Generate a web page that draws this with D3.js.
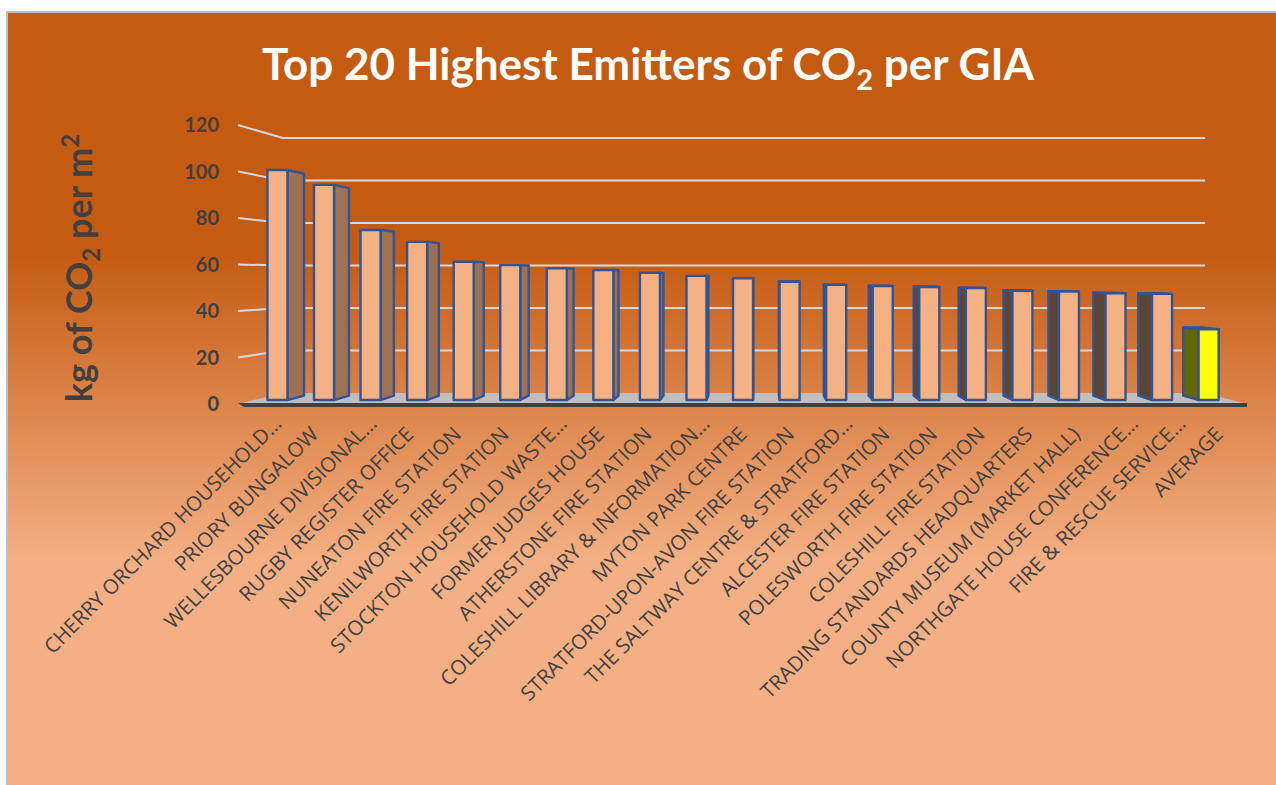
<!DOCTYPE html>
<html>
<head>
<meta charset="utf-8">
<script src="https://cdn.jsdelivr.net/npm/d3@7"></script>
<style>
  html, body { margin: 0; padding: 0; background: #ffffff; }
  svg { display: block; }
</style>
</head>
<body>
<svg id="chart" width="1276" height="785"></svg>
<script>
// ---- data ----
const categories = [
  "CHERRY ORCHARD HOUSEHOLD\u2026",
  "PRIORY BUNGALOW",
  "WELLESBOURNE DIVISIONAL\u2026",
  "RUGBY REGISTER OFFICE",
  "NUNEATON FIRE STATION",
  "KENILWORTH FIRE STATION",
  "STOCKTON HOUSEHOLD WASTE\u2026",
  "FORMER JUDGES HOUSE",
  "ATHERSTONE FIRE STATION",
  "COLESHILL LIBRARY & INFORMATION\u2026",
  "MYTON PARK CENTRE",
  "STRATFORD-UPON-AVON FIRE STATION",
  "THE SALTWAY CENTRE & STRATFORD\u2026",
  "ALCESTER FIRE STATION",
  "POLESWORTH FIRE STATION",
  "COLESHILL FIRE STATION",
  "TRADING STANDARDS HEADQUARTERS",
  "COUNTY MUSEUM (MARKET HALL)",
  "NORTHGATE HOUSE CONFERENCE\u2026",
  "FIRE & RESCUE SERVICE\u2026",
  "AVERAGE"
];
const values = [
  102.1, 95.5, 75.5, 70.2, 61.4, 59.9, 58.5, 57.7, 56.5, 55.1,
  54.0, 52.5, 51.1, 50.6, 50.2, 49.7, 48.5, 48.1, 47.4, 47.1,
  31.4
];
const yTicks = [0, 20, 40, 60, 80, 100, 120];
const highlightCategory = "AVERAGE";

// ---- canvas ----
const W = 1276, H = 785;
const svg = d3.select("#chart");
const defs = svg.append("defs");

const bg = defs.append("linearGradient")
  .attr("id", "bgGrad")
  .attr("gradientUnits", "userSpaceOnUse")
  .attr("x1", 0).attr("y1", 12).attr("x2", 0).attr("y2", H);
[[0, "#c55a11"], [0.31, "#c55a11"], [0.71, "#f4b084"], [1, "#f4b084"]]
  .forEach(([o, c]) => bg.append("stop").attr("offset", o).attr("stop-color", c));

svg.append("rect")
  .attr("x", 7).attr("y", 12)
  .attr("width", W + 10).attr("height", H + 10)
  .attr("fill", "url(#bgGrad)")
  .attr("stroke", "#bfbfbf").attr("stroke-width", 2);

// ---- scales and perspective ----
const x = d3.scaleBand()
  .domain(categories)
  .range([238, 1247])
  .paddingInner(0.57)
  .paddingOuter(0.285);
const y = d3.scaleLinear().domain([0, 120]).range([404, 125]);
// depth 0 = front edge of the floor, 1 = back wall
const depth = d3.scaleLinear().domain([0, 1]).range([1, 0.914]);
const vp = [760, 276];
function proj(X, v, z) {
  const f = depth(z);
  return [vp[0] + (X - vp[0]) * f, vp[1] + (y(v) - vp[1]) * f];
}
const [xL, xR] = x.range();
const line = d3.line();

// ---- walls: gridlines ----
const grid = svg.append("g");
grid.selectAll("path")
  .data(yTicks.filter(t => t > 0))
  .join("path")
  .attr("d", t => line([proj(xL, t, 0), proj(xL, t, 1), proj(xR, t, 1)]))
  .attr("fill", "none")
  .attr("stroke", "#d9d9d9")
  .attr("stroke-width", 2);

// ---- floor ----
svg.append("path")
  .attr("d", line([proj(xL, 0, 0), proj(xL, 0, 1), proj(xR, 0, 1), proj(xR, 0, 0)]) + "Z")
  .attr("fill", "#bfbfbf");
const f0 = proj(xL, 0, 0), f1 = proj(xR, 0, 0);
svg.append("path")
  .attr("d", line([[f0[0], f0[1] - 1], [f1[0], f1[1] - 1], [f1[0], f1[1] + 3], [f0[0] + 6, f0[1] + 3]]) + "Z")
  .attr("fill", "#404040");

// ---- bars ----
const zf = 0.36, zb = 0.756;
const bw = x.bandwidth();
const palette = {
  normal:    { front: "#f4b183", right: "#9e7152", left: "#5d4535", top: "#e9a679" },
  highlight: { front: "#ffff00", right: "#808000", left: "#666600", top: "#70805a" }
};
const bars = svg.append("g")
  .selectAll("g")
  .data(categories.map((c, i) => ({ c, v: values[i] })))
  .join("g");

bars.each(function (d) {
  const g = d3.select(this);
  const col = d.c === highlightCategory ? palette.highlight : palette.normal;
  const X0 = x(d.c), X1 = X0 + bw;
  const cx = (X0 + X1) / 2;
  const face = (pts, fill) => g.append("path")
    .attr("d", line(pts) + "Z")
    .attr("fill", fill)
    .attr("stroke", "#2f5597")
    .attr("stroke-width", 2.4)
    .attr("stroke-linejoin", "round");
  // side face turned towards the viewer
  if (cx < vp[0]) {
    face([proj(X1, 0, zf), proj(X1, 0, zb), proj(X1, d.v, zb), proj(X1, d.v, zf)], col.right);
  } else {
    face([proj(X0, 0, zf), proj(X0, 0, zb), proj(X0, d.v, zb), proj(X0, d.v, zf)], col.left);
  }
  // top face shows when the top sits below eye level
  if (proj(X0, d.v, zf)[1] > vp[1]) {
    face([proj(X0, d.v, zf), proj(X1, d.v, zf), proj(X1, d.v, zb), proj(X0, d.v, zb)], col.top);
  }
  face([proj(X0, 0, zf), proj(X1, 0, zf), proj(X1, d.v, zf), proj(X0, d.v, zf)], col.front);
});

// ---- value axis labels ----
svg.append("g")
  .selectAll("text")
  .data(yTicks)
  .join("text")
  .attr("x", 219)
  .attr("y", t => y(t))
  .attr("dy", "0.36em")
  .attr("text-anchor", "end")
  .attr("font-family", "Lato, 'Open Sans', sans-serif")
  .attr("font-weight", 700)
  .attr("font-size", 20)
  .attr("fill", "#404040")
  .text(t => t);

// ---- category labels ----
svg.append("g")
  .selectAll("text")
  .data(categories)
  .join("text")
  .attr("transform", c => {
    const ax = proj(x(c) + bw / 2, 0, 0.11)[0] + 16;
    return `translate(${ax},425) rotate(-45)`;
  })
  // truncated names run right to the edge of the label box
  .attr("x", c => c.endsWith("\u2026") ? 0 : -15)
  .attr("text-anchor", "end")
  .attr("font-family", "'Open Sans', sans-serif")
  .attr("font-size", 20.5)
  .attr("fill", "#404040")
  .text(c => c);

// ---- value axis title ----
const yt = svg.append("text")
  .attr("transform", "translate(91.5,268) rotate(-90)")
  .attr("text-anchor", "middle")
  .attr("font-family", "Lato, 'Open Sans', sans-serif")
  .attr("font-weight", 700)
  .attr("font-size", 36)
  .attr("fill", "#404040");
yt.append("tspan").text("kg of CO");
yt.append("tspan").attr("font-size", 24).attr("dy", 8).text("2");
yt.append("tspan").attr("dy", -8).text(" per m");
yt.append("tspan").attr("font-size", 24).attr("dy", -13).text("2");

// ---- chart title ----
const title = svg.append("text")
  .attr("x", 648)
  .attr("y", 80)
  .attr("text-anchor", "middle")
  .attr("font-family", "Lato, 'Open Sans', sans-serif")
  .attr("font-weight", 700)
  .attr("font-size", 44)
  .attr("fill", "#ffffff");
title.append("tspan").text("Top 20 Highest Emitters of CO");
title.append("tspan").attr("font-size", 29).attr("dy", 10).text("2");
title.append("tspan").attr("dy", -10).text(" per GIA");
</script>
</body>
</html>
